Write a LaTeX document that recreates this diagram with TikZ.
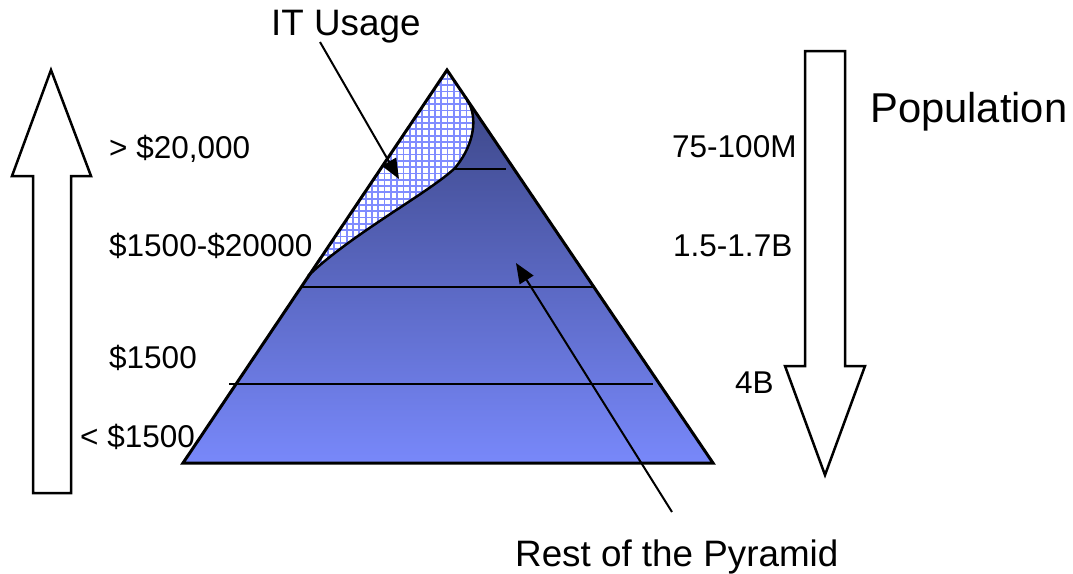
\documentclass[tikz,border=0pt]{standalone}
\usepackage{fontspec}
\setmainfont{Liberation Sans}
\usetikzlibrary{arrows.meta}
\definecolor{pyrtop}{RGB}{56,66,128}
\definecolor{pyrbot}{RGB}{120,136,250}
\definecolor{gridblue}{RGB}{128,140,255}
\tikzset{
  lbl/.style={anchor=base west, inner sep=0pt, font=\fontsize{31.5}{36}\selectfont},
  biglbl/.style={anchor=base west, inner sep=0pt, font=\fontsize{36.8}{42}\selectfont},
  poplbl/.style={anchor=base west, inner sep=0pt, font=\fontsize{41.7}{48}\selectfont},
  blockarrow/.style={draw=black, fill=white, line width=2.5pt, line join=miter},
  tier/.style={draw=black, line width=2.8pt},
  gridline/.style={draw=gridblue, line width=1.8pt},
  pointer/.style={draw=black, line width=2pt, -{Triangle[length=20pt,width=16pt]}}
}
\begin{document}
\begin{tikzpicture}[x=1pt,y=-1pt]
\useasboundingbox (0,0) rectangle (1073,573);

% pyramid corners
\coordinate (apex) at (447,70);
\coordinate (bl) at (183,463);
\coordinate (br) at (713,463);

% pyramid body with gradient
\shade[top color=pyrtop, bottom color=pyrbot] (apex) -- (br) -- (bl) -- cycle;

% IT usage region (hatched)
\coordinate (hatchlow) at (308,276);
\coordinate (hatchtop) at (467,100);
\coordinate (hatchmid) at (455,168);
\begin{scope}
  \clip (hatchlow) -- (apex) -- (hatchtop) .. controls (476,112) and (478,140) .. (hatchmid)
        .. controls (430,192) and (350,235) .. (hatchlow) -- cycle;
  \fill[white] (290,60) rectangle (490,290);
  \foreach \k in {0,...,37} {
    \draw[gridline] (290+6.3*\k,60) -- (290+6.3*\k,290);
    \draw[gridline] (290,60+6.3*\k) -- (490,60+6.3*\k);
  }
\end{scope}
\draw[line width=2.5pt] (hatchtop) .. controls (476,112) and (478,140) .. (hatchmid)
        .. controls (430,192) and (350,235) .. (hatchlow);

% tier lines
\coordinate (t1a) at (455,169);
\coordinate (t1b) at (506,169);
\coordinate (t2a) at (302,287);
\coordinate (t2b) at (595,287);
\coordinate (t3a) at (229,384);
\coordinate (t3b) at (653,384);
\draw[tier] (t1a) -- (t1b);
\draw[tier] (t2a) -- (t2b);
\draw[tier] (t3a) -- (t3b);

% pyramid outline
\draw[line width=3pt, line join=miter] (apex) -- (br) -- (bl) -- cycle;

% block arrows
\draw[blockarrow] (33,493) -- (71,493) -- (71,176) -- (91,176) -- (51,70) -- (12,176) -- (33,176) -- cycle;
\draw[blockarrow] (805,51) -- (845,51) -- (845,366) -- (865,366) -- (825,475) -- (785,366) -- (805,366) -- cycle;

% labels
\node[lbl] (inc1) at (109,158) {> \$20,000};
\node[lbl] (inc2) at (109,256) {\$1500-\$20000};
\node[lbl] (inc3) at (109,368) {\$1500};
\node[lbl] (inc4) at (80,447) {< \$1500};
\node[lbl] (pop1) at (672,157) {75-100M};
\node[lbl] (pop2) at (673,256) {1.5-1.7B};
\node[lbl] (pop3) at (735,393) {4B};
\node[poplbl] (pop) at (870,122) {Population};
\node[biglbl] (it) at (271,35) {IT Usage};
\node[biglbl] (rest) at (515,566) {Rest of the Pyramid};

% pointers
\coordinate (itfrom) at (320,42);
\coordinate (itto) at (399,179);
\coordinate (restfrom) at (672,512);
\coordinate (restto) at (516,263);
\draw[pointer] (itfrom) -- (itto);
\draw[pointer] (restfrom) -- (restto);
\end{tikzpicture}
\end{document}
